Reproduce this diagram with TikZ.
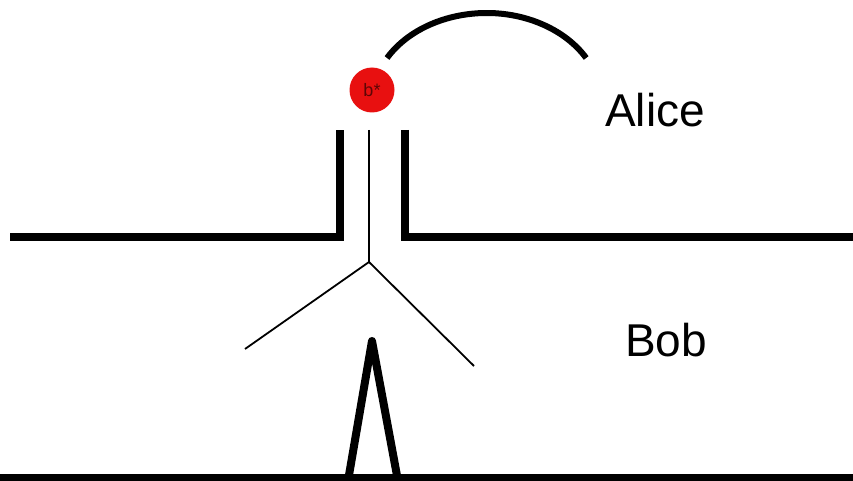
\documentclass[tikz,border=0pt]{standalone}
\usepackage{fontspec}
\setmainfont{Liberation Sans}
\usetikzlibrary{positioning}
\definecolor{ballred}{RGB}{232,16,16}
\definecolor{ink}{RGB}{0,0,0}
\tikzset{
  wall/.style={draw=ink,line width=4pt},
  wire/.style={draw=ink,line width=0.9pt},
  hop/.style={draw=ink,line width=3pt},
  who/.style={font=\fontsize{23}{26}\selectfont,text=ink},
  ball/.style={circle,fill=ballred,minimum size=22.5pt,inner sep=0pt,
    font=\fontsize{9}{10}\selectfont,text=ink!60!ballred},
}
\begin{document}
\begin{tikzpicture}[x=0.5pt,y=-0.5pt]
  \useasboundingbox (0,0) rectangle (853,481);
  % walls of the channel
  \draw[wall] (10,237) -- (340,237) -- (340,130);
  \draw[wall] (405,130) -- (405,237) -- (853,237);
  \draw[wall] (0,478) -- (853,478);
  % splitter
  \coordinate (fork) at (369,262);
  \draw[wire] (369,130) -- (fork);
  \draw[wire] (fork) -- (245,349);
  \draw[wire] (fork) -- (474,366);
  % spike at the bottom
  \draw[wall,line join=round] (348,481) -- (372,341) -- (398,481);
  % particle and its jump
  \node[ball] (b) at (372,90) {b*};
  \draw[hop] (387,58) arc (210:330:115 and 90);
  \node[who] (alice) at (655,110) {Alice};
  \node[who] (bob) at (666,340) {Bob};
\end{tikzpicture}
\end{document}
